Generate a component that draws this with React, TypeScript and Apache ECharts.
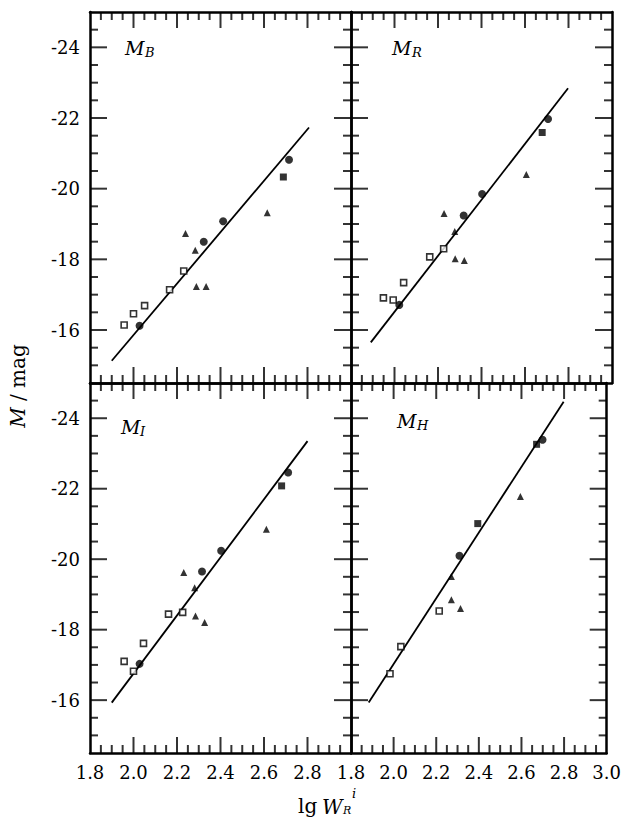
import React, { useEffect, useRef } from "react";
import * as echarts from "echarts";

// ---- tick labels / tick values ----
const xLabelsLeft = [1.8, 2.0, 2.2, 2.4, 2.6, 2.8];
const xLabelsRight = [1.8, 2.0, 2.2, 2.4, 2.6, 2.8, 3.0];
const yLabels = [-24, -22, -20, -18, -16];
const xMajorTicks = [2.0, 2.2, 2.4, 2.6, 2.8];
const xMinorTicks = [1.85, 1.9, 1.95, 2.05, 2.1, 2.15, 2.25, 2.3, 2.35, 2.45, 2.5, 2.55, 2.65, 2.7, 2.75, 2.85, 2.9, 2.95];
const yMajorTicks = [-24, -22, -20, -18, -16];
const yMinorTicks = [-24.5, -23.5, -23, -22.5, -21.5, -21, -20.5, -19.5, -19, -18.5, -17.5, -17, -16.5, -15.5, -15];

// ---- panel names ----
const panelNames = ["B", "R", "I", "H"];

// ---- M_B ----
const bOpenSq = [[1.957, -16.14], [2.0, -16.46], [2.051, -16.69], [2.166, -17.14], [2.231, -17.67]];
const bCircle = [[2.028, -16.12], [2.323, -18.5], [2.412, -19.08], [2.715, -20.82]];
const bFilledSq = [[2.689, -20.33]];
const bTri = [[2.239, -18.73], [2.284, -18.26], [2.289, -17.23], [2.334, -17.23], [2.615, -19.32]];
const bFit = [[1.9, -15.13], [2.807, -21.73]];

// ---- M_R ----
const rOpenSq = [[1.949, -16.91], [1.994, -16.85], [2.042, -17.34], [2.162, -18.07], [2.226, -18.3]];
const rCircle = [[2.022, -16.71], [2.318, -19.24], [2.403, -19.85], [2.706, -21.97]];
const rFilledSq = [[2.679, -21.59]];
const rTri = [[2.228, -19.3], [2.277, -18.79], [2.279, -18.02], [2.321, -17.97], [2.606, -20.4]];
const rFit = [[1.891, -15.65], [2.798, -22.84]];

// ---- M_I ----
const iOpenSq = [[1.957, -17.1], [2.0, -16.82], [2.046, -17.61], [2.161, -18.44], [2.226, -18.49]];
const iCircle = [[2.028, -17.03], [2.315, -19.65], [2.403, -20.24], [2.711, -22.46]];
const iFilledSq = [[2.681, -22.08]];
const iTri = [[2.231, -19.62], [2.281, -19.19], [2.285, -18.39], [2.327, -18.2], [2.611, -20.85]];
const iFit = [[1.9, -15.93], [2.8, -23.35]];

// ---- M_H ----
const hOpenSq = [[1.983, -16.75], [2.034, -17.52], [2.214, -18.53]];
const hCircle = [[2.309, -20.1], [2.699, -23.39]];
const hFilledSq = [[2.395, -21.01], [2.671, -23.26]];
const hTri = [[2.271, -19.51], [2.271, -18.85], [2.314, -18.6], [2.595, -21.78]];
const hFit = [[1.883, -15.93], [2.798, -24.47]];

const panelData = [
  { open: bOpenSq, circle: bCircle, fsq: bFilledSq, tri: bTri, fit: bFit },
  { open: rOpenSq, circle: rCircle, fsq: rFilledSq, tri: rTri, fit: rFit },
  { open: iOpenSq, circle: iCircle, fsq: iFilledSq, tri: iTri, fit: iFit },
  { open: hOpenSq, circle: hCircle, fsq: hFilledSq, tri: hTri, fit: hFit },
];

const FONT = '"DejaVu Serif", serif';
const X_MIN = 1.8, X_MAX = 3.0, Y_MIN = -25, Y_MAX = -14.5;

function buildOption() {
  const rects = [
    { left: 90, top: 12, width: 261, height: 371 },
    { left: 351, top: 12, width: 261, height: 371 },
    { left: 90, top: 383, width: 261, height: 370 },
    { left: 351, top: 383, width: 261, height: 370 },
  ];
  const grids = rects.map((g) => ({ ...g }));

  const xAxes: any[] = [];
  const yAxes: any[] = [];
  const inList = (arr: number[], v: number) => arr.some((t) => Math.abs(t - v) < 1e-6);
  const lineStyle = { color: "#000", width: 2.5 };
  const mainX: number[] = [];
  const mainY: number[] = [];

  rects.forEach((r, g) => {
    const isBottom = g >= 2;
    const isLeft = g % 2 === 0;
    const xl = isLeft ? xLabelsLeft : xLabelsRight;
    mainX.push(xAxes.length);
    xAxes.push({
      type: "value", gridIndex: g, position: "bottom", min: X_MIN, max: X_MAX, interval: 0.2,
      splitLine: { show: false },
      axisLine: { show: true, onZero: false, lineStyle },
      axisTick: { show: false },
      axisLabel: {
        show: isBottom, margin: 10, color: "#000", fontFamily: FONT, fontSize: 18,
        formatter: (v: number) => (inList(xl, v) ? v.toFixed(1) : ""),
      },
    });
    xAxes.push({
      type: "value", gridIndex: g, position: "top", min: X_MIN, max: X_MAX, interval: 0.2,
      splitLine: { show: false },
      axisLine: { show: true, onZero: false, lineStyle },
      axisTick: { show: false }, axisLabel: { show: false },
    });
    mainY.push(yAxes.length);
    yAxes.push({
      type: "value", gridIndex: g, position: "left", min: Y_MIN, max: Y_MAX, inverse: true, interval: 0.5,
      splitLine: { show: false },
      axisLine: { show: true, onZero: false, lineStyle },
      axisTick: { show: false },
      axisLabel: {
        show: isLeft, margin: 10, color: "#000", fontFamily: FONT, fontSize: 18,
        formatter: (v: number) => (inList(yLabels, v) ? String(v) : ""),
      },
    });
    yAxes.push({
      type: "value", gridIndex: g, position: "right", min: Y_MIN, max: Y_MAX, inverse: true, interval: 0.5,
      splitLine: { show: false },
      axisLine: { show: true, onZero: false, lineStyle },
      axisTick: { show: false }, axisLabel: { show: false },
    });
  });

  const series: any[] = [];
  panelData.forEach((p, gi) => {
    const ax = { xAxisIndex: mainX[gi], yAxisIndex: mainY[gi] };
    // inward tick marks drawn as thin rect symbols placed by the axes' scales at the panel borders
    const tickSeries = (data: number[][], size: number[], offset: number[]) => ({
      type: "scatter", ...ax, data, symbol: "rect", symbolSize: size, symbolOffset: offset,
      itemStyle: { color: "#000" }, clip: false, silent: true, z: 5,
    });
    [
      { vals: xMinorTicks, len: 8 },
      { vals: xMajorTicks, len: 16 },
    ].forEach((t) => {
      series.push(tickSeries(t.vals.map((v) => [v, Y_MAX]), [2, t.len], [0, -t.len / 2]));
      series.push(tickSeries(t.vals.map((v) => [v, Y_MIN]), [2, t.len], [0, t.len / 2]));
    });
    [
      { vals: yMinorTicks, len: 8 },
      { vals: yMajorTicks, len: 17 },
    ].forEach((t) => {
      series.push(tickSeries(t.vals.map((v) => [X_MIN, v]), [t.len, 2], [t.len / 2, 0]));
      series.push(tickSeries(t.vals.map((v) => [X_MAX, v]), [t.len, 2], [-t.len / 2, 0]));
    });
    series.push({ type: "line", ...ax, data: p.fit, showSymbol: false, symbol: "none", lineStyle: { color: "#000", width: 1.8 }, z: 3 });
    series.push({ type: "scatter", ...ax, data: p.open, symbol: "rect", symbolSize: 6, itemStyle: { color: "#fff", borderColor: "#000", borderWidth: 1.6 }, z: 4 });
    series.push({ type: "scatter", ...ax, data: p.circle, symbol: "circle", symbolSize: 8, itemStyle: { color: "#000" }, z: 4 });
    series.push({ type: "scatter", ...ax, data: p.fsq, symbol: "rect", symbolSize: 7, itemStyle: { color: "#000" }, z: 4 });
    series.push({ type: "scatter", ...ax, data: p.tri, symbol: "triangle", symbolSize: 7, itemStyle: { color: "#000" }, z: 4 });
  });

  const graphic: any[] = [];
  const labelPos = [
    { mx: 125, my: 38, sx: 145, sy: 46 },
    { mx: 392, my: 38, sx: 412, sy: 46 },
    { mx: 121, my: 417, sx: 140, sy: 425 },
    { mx: 397, my: 411, sx: 417, sy: 419 },
  ];
  labelPos.forEach((lp, i) => {
    graphic.push({ type: "text", x: lp.mx, y: lp.my, z: 10, style: { text: "M", fontFamily: FONT, fontStyle: "italic", fontSize: 19, fill: "#000", align: "left", verticalAlign: "top" } });
    graphic.push({ type: "text", x: lp.sx, y: lp.sy, z: 10, style: { text: panelNames[i], fontFamily: FONT, fontStyle: "italic", fontSize: 13, fill: "#000", align: "left", verticalAlign: "top" } });
  });
  graphic.push({
    type: "text", x: 18, y: 386, rotation: Math.PI / 2, z: 10,
    style: {
      text: "{i|M} / mag", fontFamily: FONT, fontSize: 20, fill: "#000", align: "center", verticalAlign: "middle",
      rich: { i: { fontFamily: FONT, fontStyle: "italic", fontSize: 20 } },
    },
  });
  graphic.push({ type: "text", x: 298, y: 796, z: 10, style: { text: "lg", fontFamily: FONT, fontSize: 20, fill: "#000", align: "left", verticalAlign: "top" } });
  graphic.push({ type: "text", x: 322, y: 797, z: 10, style: { text: "W", fontFamily: FONT, fontStyle: "italic", fontSize: 20, fill: "#000", align: "left", verticalAlign: "top" } });
  graphic.push({ type: "text", x: 343, y: 805, z: 10, style: { text: "R", fontFamily: FONT, fontStyle: "italic", fontSize: 11, fill: "#000", align: "left", verticalAlign: "top" } });
  graphic.push({ type: "text", x: 352, y: 787, z: 10, style: { text: "i", fontFamily: FONT, fontStyle: "italic", fontSize: 13, fill: "#000", align: "left", verticalAlign: "top" } });

  return { animation: false, backgroundColor: "#fff", grid: grids, xAxis: xAxes, yAxis: yAxes, series, graphic };
}

export default function App() {
  const ref = useRef<HTMLDivElement>(null);
  useEffect(() => {
    if (!ref.current) return;
    const chart = echarts.init(ref.current, null, { renderer: "svg" });
    chart.setOption(buildOption() as any);
    return () => chart.dispose();
  }, []);
  return <div ref={ref} style={{ position: "absolute", left: 0, top: 0, width: 624, height: 819 }} />;
}
